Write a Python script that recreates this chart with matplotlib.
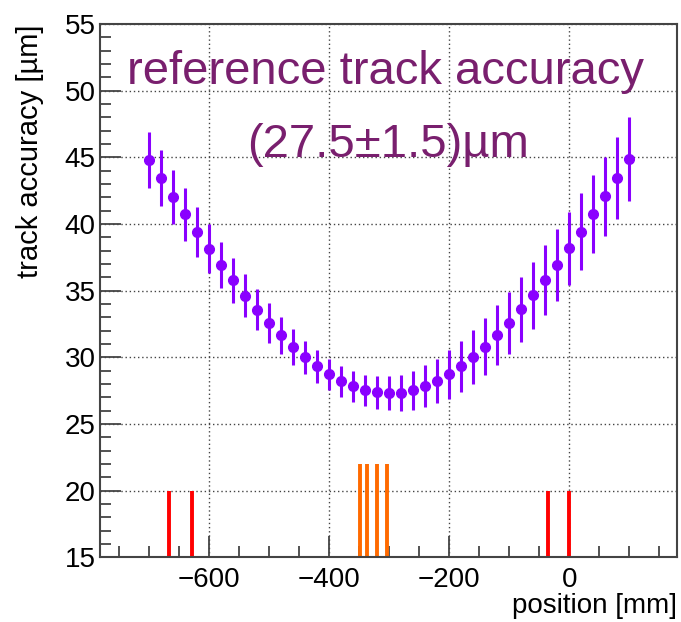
import matplotlib
matplotlib.use("Agg")
import matplotlib.pyplot as plt
import numpy as np
from matplotlib.ticker import MultipleLocator

plt.rcParams['font.family'] = ['Liberation Sans', 'DejaVu Sans']

# measured points
position = [-700, -680, -660, -640, -620, -600, -580, -560, -540, -520,
            -500, -480, -460, -440, -420, -400, -380, -360, -340, -320,
            -300, -280, -260, -240, -220, -200, -180, -160, -140, -120,
            -100, -80, -60, -40, -20, 0, 20, 40, 60, 80, 100]
accuracy = [44.80, 43.42, 42.04, 40.72, 39.40, 38.14, 36.92, 35.77, 34.62, 33.57,
            32.59, 31.65, 30.79, 30.00, 29.32, 28.72, 28.22, 27.82, 27.52, 27.37,
            27.32, 27.32, 27.54, 27.84, 28.22, 28.72, 29.32, 30.02, 30.79, 31.65,
            32.59, 33.60, 34.65, 35.77, 36.94, 38.17, 39.42, 40.72, 42.07, 43.42,
            44.85]
accuracy_err = [2.13, 2.10, 2.03, 1.96, 1.90, 1.85, 1.75, 1.69, 1.63, 1.53,
                1.48, 1.40, 1.34, 1.25, 1.23, 1.19, 1.16, 1.16, 1.19, 1.24,
                1.30, 1.37, 1.47, 1.58, 1.68, 1.81, 1.92, 2.02, 2.13, 2.24,
                2.33, 2.44, 2.53, 2.62, 2.70, 2.75, 2.87, 2.93, 2.99, 3.07,
                3.16]

# detector planes
ref_planes = [-666, -627, -36, 0]
ref_height = 20
dut_planes = [-348, -336, -320, -304]
dut_height = 22

fig = plt.figure(figsize=(6.81, 6.22), dpi=100)
ax = fig.add_axes([0.1468, 0.104, 0.8478, 0.8574])

ax.errorbar(position, accuracy, yerr=accuracy_err, fmt='o', color='#8A00FF',
            ms=7, elinewidth=2.2, capsize=0, zorder=3)

ax.vlines(ref_planes, 15, ref_height, colors='#FF0000', lw=2.8, zorder=2)
ax.vlines(dut_planes, 15, dut_height, colors='#FF6A00', lw=2.8, zorder=2)

ax.set_xlim(-781, 180)
ax.set_ylim(15, 55)
ax.xaxis.set_major_locator(MultipleLocator(200))
ax.xaxis.set_minor_locator(MultipleLocator(50))
ax.yaxis.set_major_locator(MultipleLocator(5))
ax.yaxis.set_minor_locator(MultipleLocator(1))

ax.tick_params(which='both', direction='in', top=False, right=False,
               color='#444444', width=1.3, labelsize=20, labelcolor='black')
ax.tick_params(which='major', length=15)
ax.tick_params(which='minor', length=8)
ax.tick_params(axis='y', pad=3)
ax.tick_params(axis='x', pad=7)

for s in ax.spines.values():
    s.set_color('#444444')
    s.set_linewidth(1.5)

ax.grid(True, which='major', linestyle=(0, (1, 2)), color='#444444', lw=1.0)
ax.set_axisbelow(True)

ax.set_xlabel('position [mm]', fontsize=20, loc='right', labelpad=0)
ax.set_ylabel('track accuracy [µm]', fontsize=21, loc='top', labelpad=15)

ax.text(-305, 50.5, 'reference track accuracy', fontsize=34, color='#791F6E',
        ha='center', va='baseline')
ax.text(-302, 45.0, '(27.5±1.5)µm', fontsize=34, color='#791F6E',
        ha='center', va='baseline')

fig.savefig('out.png', dpi=100)
